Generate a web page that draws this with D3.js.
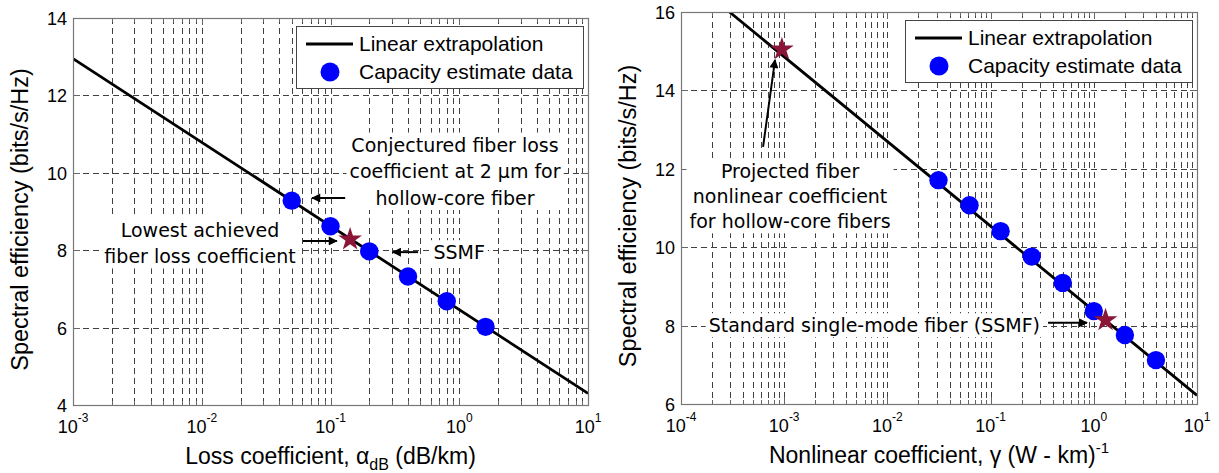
<!DOCTYPE html>
<html><head><meta charset="utf-8">
<script src="https://cdn.jsdelivr.net/npm/d3@7"></script>
<style>
body{margin:0;background:#fff;}
svg{display:block;font-family:"Liberation Sans",Arial,Helvetica,sans-serif;}
</style>
</head><body>
<svg id="chart" width="1219" height="473"></svg>
<script>
// ---------- Left panel data: loss coefficient ----------
const lossLineX   = [0.001, 10];
const lossLineY   = [12.95, 4.3];
const lossPointsX = [0.05, 0.1, 0.2, 0.4, 0.8, 1.6];
const lossPointsY = [9.28, 8.62, 7.97, 7.32, 6.68, 6.02];
const lossStarX   = [0.142];
const lossStarY   = [8.28];
const lossXTicks  = [1e-3, 1e-2, 1e-1, 1, 10];
const lossXTickExp = ["-3", "-2", "-1", "0", "1"];
const lossYTicks  = [4, 6, 8, 10, 12, 14];

// ---------- Right panel data: nonlinear coefficient ----------
const nlLineX   = [0.000295, 10];
const nlLineY   = [16, 6.22];
const nlPointsX = [0.03125, 0.0625, 0.125, 0.25, 0.5, 1, 2, 4];
const nlPointsY = [11.71, 11.07, 10.41, 9.76, 9.09, 8.37, 7.76, 7.12];
const nlStarX   = [0.00095, 1.3];
const nlStarY   = [15.05, 8.14];
const nlXTicks  = [1e-4, 1e-3, 1e-2, 1e-1, 1, 10];
const nlXTickExp = ["-4", "-3", "-2", "-1", "0", "1"];
const nlYTicks  = [6, 8, 10, 12, 14, 16];

const legendLabels = ["Linear extrapolation", "Capacity estimate data"];
const yAxisTitle = "Spectral efficiency (bits/s/Hz)";

// annotation texts (anchored in data units)
const lossNotes = [
  {lines: ["Conjectured fiber loss", "coefficient at 2 \u03bcm for", "hollow-core fiber"], x: 0.927, y: [10.72, 10.03, 9.34], anchor: "middle"},
  {lines: ["Lowest achieved", "fiber loss coefficient"], x: 0.0097, y: [8.52, 7.83], anchor: "middle"},
  {lines: ["SSMF"], x: 0.63, y: [7.94], anchor: "start"}
];
const lossArrows = [
  {x1: 0.130, y1: 9.35, x2: 0.072, y2: 9.35},
  {x1: 0.0611, y1: 8.24, x2: 0.112, y2: 8.24},
  {x1: 0.479, y1: 7.95, x2: 0.305, y2: 7.95}
];
const nlNotes = [
  {lines: ["Projected fiber", "nonlinear coefficient", "for hollow-core fibers"], x: 0.00114, y: [11.93, 11.29, 10.65], anchor: "middle"},
  {lines: ["Standard single-mode fiber (SSMF)"], x: 0.301, y: [8.0], anchor: "end"}
];
const nlArrows = [
  {x1: 0.000624, y1: 12.56, x2: 0.000815, y2: 14.78},
  {x1: 0.360, y1: 8.07, x2: 0.859, y2: 8.07}
];

const svg = d3.select("#chart");
const defs = svg.append("defs");
defs.append("marker").attr("id", "ah").attr("viewBox", "0 0 10 10")
  .attr("refX", 9).attr("refY", 5).attr("markerWidth", 12).attr("markerHeight", 9)
  .attr("markerUnits", "userSpaceOnUse").attr("orient", "auto")
  .append("path").attr("d", "M0,0 L10,5 L0,10 Z").attr("fill", "#000");

function panel(cfg) {
  const x = d3.scaleLog().domain(cfg.xDomain).range([cfg.left, cfg.right]);
  const y = d3.scaleLinear().domain(cfg.yDomain).range([cfg.bottom, cfg.top]);
  const g = svg.append("g");
  const cid = "clip" + cfg.id;
  defs.append("clipPath").attr("id", cid).append("rect")
    .attr("x", cfg.left).attr("y", cfg.top)
    .attr("width", cfg.right - cfg.left).attr("height", cfg.bottom - cfg.top);

  const allX = x.ticks();
  const majorSet = new Set(cfg.xTicks.map(v => v.toPrecision(3)));
  const inner = allX.filter(v => v > cfg.xDomain[0] * 1.0001 && v < cfg.xDomain[1] * 0.9999);

  // grid
  const grid = g.append("g").attr("stroke", "#404040").attr("stroke-width", 1)
    .attr("stroke-dasharray", "6,4").attr("fill", "none");
  grid.selectAll("line.vx").data(inner).join("line")
    .attr("x1", d => Math.round(x(d)) + 0.5).attr("x2", d => Math.round(x(d)) + 0.5)
    .attr("y1", cfg.top).attr("y2", cfg.bottom);
  grid.selectAll("line.hy").data(cfg.yTicks.filter(v => v > cfg.yDomain[0] && v < cfg.yDomain[1])).join("line")
    .attr("x1", cfg.left).attr("x2", cfg.right)
    .attr("y1", d => Math.round(y(d)) + 0.5).attr("y2", d => Math.round(y(d)) + 0.5);

  // ticks (inward, all sides)
  const tk = g.append("g").attr("stroke", "#666").attr("stroke-width", 1);
  allX.forEach(v => {
    const len = majorSet.has(v.toPrecision(3)) ? 7 : 4;
    const px = Math.round(x(v)) + 0.5;
    tk.append("line").attr("x1", px).attr("x2", px).attr("y1", cfg.bottom).attr("y2", cfg.bottom - len);
    tk.append("line").attr("x1", px).attr("x2", px).attr("y1", cfg.top).attr("y2", cfg.top + len);
  });
  cfg.yTicks.forEach(v => {
    const py = Math.round(y(v)) + 0.5;
    tk.append("line").attr("x1", cfg.left).attr("x2", cfg.left + 7).attr("y1", py).attr("y2", py);
    tk.append("line").attr("x1", cfg.right).attr("x2", cfg.right - 7).attr("y1", py).attr("y2", py);
  });

  // data line
  const lineData = cfg.lineX.map((v, i) => [v, cfg.lineY[i]]);
  g.append("path").datum(lineData).attr("clip-path", `url(#${cid})`)
    .attr("d", d3.line().x(d => x(d[0])).y(d => y(d[1])))
    .attr("stroke", "#000").attr("stroke-width", 2.8).attr("fill", "none");

  // points
  g.selectAll("circle.pt").data(cfg.ptX.map((v, i) => [v, cfg.ptY[i]])).join("circle")
    .attr("cx", d => x(d[0])).attr("cy", d => y(d[1])).attr("r", 9.2)
    .attr("fill", "#0000ff");

  // stars
  g.selectAll("path.star").data(cfg.starX.map((v, i) => [v, cfg.starY[i]])).join("path")
    .attr("transform", d => `translate(${x(d[0])},${y(d[1])})`)
    .attr("d", d3.symbol().type(d3.symbolStar).size(175))
    .attr("fill", "#8b1538");

  // annotation texts with white background
  cfg.notes.forEach(n => {
    const ng = g.append("g");
    const bg = ng.append("rect").attr("fill", "#fff");
    const t = ng.append("g").attr("font-family", "'DejaVu Sans',Verdana,sans-serif")
      .attr("font-size", 19).attr("fill", "#000").attr("text-anchor", n.anchor);
    n.lines.forEach((s, i) => {
      t.append("text").attr("x", x(n.x)).attr("y", y(n.y[i])).attr("dy", "0.35em").text(s);
    });
    const bb = t.node().getBBox();
    bg.attr("x", bb.x - 3).attr("y", bb.y - 1).attr("width", bb.width + 6).attr("height", bb.height + 2);
  });

  // arrows
  g.selectAll("line.arr").data(cfg.arrows).join("line")
    .attr("x1", d => x(d.x1)).attr("y1", d => y(d.y1))
    .attr("x2", d => x(d.x2)).attr("y2", d => y(d.y2))
    .attr("stroke", "#000").attr("stroke-width", 2).attr("marker-end", "url(#ah)");

  // frame
  g.append("rect").attr("x", cfg.left + 0.5).attr("y", cfg.top + 0.5)
    .attr("width", cfg.right - cfg.left).attr("height", cfg.bottom - cfg.top)
    .attr("fill", "none").attr("stroke", "#777").attr("stroke-width", 1.2);

  // legend
  const lw = 287, lh = 62;
  const lx = cfg.right - 5 - lw, ly = cfg.top + 8;
  const lg = g.append("g");
  lg.append("rect").attr("x", lx + 0.5).attr("y", ly + 0.5).attr("width", lw).attr("height", lh)
    .attr("fill", "#fff").attr("stroke", "#444").attr("stroke-width", 1);
  lg.append("line").attr("x1", lx + 10).attr("x2", lx + 57).attr("y1", ly + 18).attr("y2", ly + 18)
    .attr("stroke", "#000").attr("stroke-width", 2.8);
  lg.append("circle").attr("cx", lx + 34).attr("cy", ly + 46).attr("r", 9.5).attr("fill", "#0000ff");
  legendLabels.forEach((s, i) => {
    lg.append("text").attr("x", lx + 63).attr("y", ly + 18 + i * 28).attr("dy", "0.35em")
      .attr("font-size", 21).attr("fill", "#000").text(s);
  });

  // tick labels
  const tl = g.append("g").attr("font-size", 18).attr("fill", "#000");
  cfg.xTicks.forEach((v, i) => {
    const t = tl.append("text").attr("x", x(v)).attr("y", cfg.bottom + 28).attr("text-anchor", "middle");
    t.append("tspan").text("10");
    t.append("tspan").attr("dy", -11).attr("font-size", 12).text(cfg.xExp[i]);
  });
  cfg.yTicks.forEach(v => {
    tl.append("text").attr("x", cfg.left - 6).attr("y", y(v) + 7).attr("text-anchor", "end").text(v);
  });

  // axis titles
  const xt = g.append("text").attr("x", (cfg.left + cfg.right) / 2).attr("y", cfg.bottom + 59)
    .attr("text-anchor", "middle").attr("font-size", 23).attr("fill", "#000");
  cfg.xTitle(xt);
  g.append("text").attr("transform", `translate(${cfg.left - 45},${(cfg.top + cfg.bottom) / 2 + 8}) rotate(-90)`)
    .attr("text-anchor", "middle").attr("font-size", 23.5).attr("fill", "#000").text(yAxisTitle);
}

panel({
  id: "L", left: 73, right: 588, top: 18, bottom: 405,
  xDomain: [1e-3, 10], yDomain: [4, 14],
  xTicks: lossXTicks, xExp: lossXTickExp, yTicks: lossYTicks,
  lineX: lossLineX, lineY: lossLineY, ptX: lossPointsX, ptY: lossPointsY,
  starX: lossStarX, starY: lossStarY, notes: lossNotes, arrows: lossArrows,
  xTitle: t => {
    t.append("tspan").text("Loss coefficient, \u03b1");
    t.append("tspan").attr("dy", 6).attr("font-size", 16).text("dB");
    t.append("tspan").attr("dy", -6).text(" (dB/km)");
  }
});

panel({
  id: "R", left: 681, right: 1197, top: 12, bottom: 404,
  xDomain: [1e-4, 10], yDomain: [6, 16],
  xTicks: nlXTicks, xExp: nlXTickExp, yTicks: nlYTicks,
  lineX: nlLineX, lineY: nlLineY, ptX: nlPointsX, ptY: nlPointsY,
  starX: nlStarX, starY: nlStarY, notes: nlNotes, arrows: nlArrows,
  xTitle: t => {
    t.append("tspan").text("Nonlinear coefficient, \u03b3 (W - km)");
    t.append("tspan").attr("dy", -10).attr("font-size", 15).text("-1");
  }
});
</script>
</body></html>
